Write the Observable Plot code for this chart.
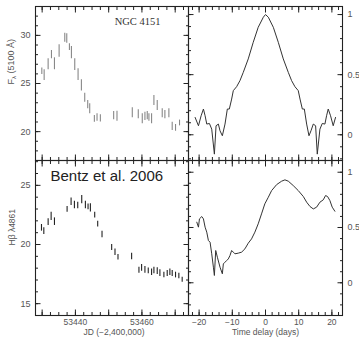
<!DOCTYPE html>
<html><head><meta charset="utf-8">
<script src="https://cdn.jsdelivr.net/npm/d3@7"></script>
<script src="https://cdn.jsdelivr.net/npm/@observablehq/plot@0.6"></script>
<style>
html,body{margin:0;padding:0;background:#fff;}
#wrap{position:relative;width:359px;height:337px;overflow:hidden;}
#wrap svg{position:absolute;left:0;top:0;}
</style></head><body><div id="wrap"></div>
<script>
// Continuum light curve (F_lambda 5100 A)
const contDay  = [53429.9,53430.6,53431.8,53432.8,53433.7,53435.1,53436.8,53437.4,53438.2,53438.8,53439.8,53440.8,53441.8,53442.8,53443.7,53444.3,53445.7,53446.5,53447.5,53451.5,53452.5,53457.1,53458.9,53460.1,53460.9,53461.6,53462.1,53462.9,53463.6,53464.6,53466.1,53466.9,53468.1,53469.1,53470.1,53471.3];
const contFlux = [26.27,25.87,27.0,28.0,27.05,28.38,29.76,29.68,28.78,28.2,26.96,25.92,24.8,23.52,22.8,22.37,21.33,21.47,21.37,21.66,21.6,21.95,21.8,21.33,21.59,21.66,21.47,21.33,23.23,22.71,21.9,21.76,21.9,20.55,20.39,20.9];
const contErr  = [0.33,0.55,0.57,0.43,0.62,0.64,0.47,0.49,0.35,0.64,0.61,0.61,0.59,0.47,0.43,0.52,0.35,0.38,0.38,0.43,0.52,0.52,0.47,0.52,0.43,0.43,0.38,0.52,0.52,0.52,0.47,0.43,0.47,0.43,0.35,0.3];
// H-beta light curve
const hbDay  = [53429.8,53430.5,53431.8,53432.7,53433.7,53437.5,53438.7,53439.7,53440.7,53441.9,53443.0,53443.8,53444.5,53445.8,53446.7,53448.0,53450.9,53451.9,53452.8,53456.9,53459.1,53459.9,53460.9,53461.9,53462.9,53463.6,53464.6,53465.4,53466.6,53467.6,53468.4,53469.1,53470.1,53471.1,53472.1];
const hbFlux = [21.41,21.13,21.89,22.38,21.93,22.97,23.62,23.34,23.3,23.79,23.34,23.18,23.09,22.49,21.72,20.85,19.75,19.35,18.93,18.99,17.83,18.03,17.86,17.77,17.66,17.8,17.75,17.58,17.42,17.55,17.65,17.55,17.42,17.34,17.03];
const hbErr  = [0.28,0.28,0.28,0.35,0.32,0.24,0.32,0.32,0.28,0.35,0.32,0.25,0.35,0.24,0.25,0.28,0.25,0.28,0.23,0.28,0.25,0.28,0.28,0.25,0.28,0.28,0.28,0.28,0.24,0.25,0.27,0.25,0.24,0.24,0.21];
// Continuum auto-correlation function
const acfLag = [-21.2,-20.2,-19.4,-18.7,-18.2,-17.7,-16.9,-16.2,-15.4,-14.9,-14.2,-13.7,-13.0,-12.2,-11.5,-10.9,-10.2,-9.7,-8.7,-7.7,-6.7,-5.2,-3.7,-2.2,-0.65,0,0.85,2.36,3.86,5.36,6.87,7.87,8.87,9.87,10.4,11.1,11.7,12.4,13.1,13.7,14.4,15.1,15.6,16.4,17.1,17.9,18.4,18.9,19.6,20.4,21.1];
const acfR   = [0.144,0.075,0.158,0.214,0.158,0.089,0.094,0.047,-0.161,0.075,0.089,0.033,-0.008,0.089,0.214,0.214,0.297,0.367,0.4,0.45,0.519,0.631,0.769,0.894,0.978,1.0,0.978,0.894,0.769,0.631,0.519,0.45,0.4,0.367,0.297,0.214,0.214,0.089,-0.008,0.033,0.089,0.075,-0.161,0.047,0.094,0.089,0.158,0.214,0.158,0.075,0.144];
// Cross-correlation function (continuum vs H-beta)
const ccfLag = [-20.7,-20.2,-19.9,-19.2,-18.7,-18.2,-17.7,-17.2,-16.7,-16.2,-15.7,-15.4,-15.0,-14.5,-13.7,-13.0,-12.7,-12.2,-11.7,-11.2,-10.7,-10.2,-9.7,-9.2,-8.2,-7.2,-6.2,-5.2,-4.2,-3.2,-2.2,-1.2,-0.2,0.85,1.85,3.36,4.86,5.86,6.87,8.37,9.87,11.4,12.4,13.4,14.4,15.4,16.4,17.4,18.1,18.7,19.4,20.1,20.9];
const ccfR   = [0.548,0.503,0.578,0.599,0.578,0.503,0.458,0.382,0.367,0.262,0.141,0.066,0.292,0.231,0.141,0.081,0.171,0.186,0.201,0.216,0.247,0.292,0.277,0.262,0.268,0.277,0.307,0.358,0.397,0.458,0.533,0.623,0.714,0.774,0.834,0.888,0.919,0.931,0.919,0.879,0.834,0.78,0.729,0.69,0.668,0.684,0.729,0.75,0.789,0.78,0.744,0.684,0.647];

const jdLabels = [53440, 53460];
const jdMajor = [53430, 53440, 53450, 53460, 53470];
const jdMinor = [53430,53432.5,53435,53437.5,53440,53442.5,53445,53447.5,53450,53452.5,53455,53457.5,53460,53462.5,53465,53467.5,53470,53472.5];
const contLabels = [20, 25, 30];
const contMinor = [18,19,20,21,22,23,24,25,26,27,28,29,30,31,32];
const hbLabels = [15, 20, 25];
const hbMinor = [15,16,17,18,19,20,21,22,23,24,25,26,27];
const lagLabels = [-20, -10, 0, 10, 20];
const lagMinor = [-22,-20,-18,-16,-14,-12,-10,-8,-6,-4,-2,0,2,4,6,8,10,12,14,16,18,20,22];
const rLabels = [0, 0.5, 1];
const rMinor = [-0.2,-0.1,0,0.1,0.2,0.3,0.4,0.5,0.6,0.7,0.8,0.9,1.0];

const W = 359, H = 337;
const FONT = "'Liberation Sans', Arial, sans-serif";
const INK = "#222", TXT = "#555";
const blank = () => "";

function frameTicks(xMajor, xMinor, yMajor, yMinor) {
  const M = -5.5, m = -3;
  const o = {label: null, tickFormat: blank, stroke: INK};
  return [
    Plot.axisX({...o, anchor: "bottom", ticks: xMajor, tickSize: M}),
    Plot.axisX({...o, anchor: "bottom", ticks: xMinor, tickSize: m}),
    Plot.axisX({...o, anchor: "top", ticks: xMajor, tickSize: M}),
    Plot.axisX({...o, anchor: "top", ticks: xMinor, tickSize: m}),
    Plot.axisY({...o, anchor: "left", ticks: yMajor, tickSize: M}),
    Plot.axisY({...o, anchor: "left", ticks: yMinor, tickSize: m}),
    Plot.axisY({...o, anchor: "right", ticks: yMajor, tickSize: M}),
    Plot.axisY({...o, anchor: "right", ticks: yMinor, tickSize: m}),
    Plot.frame({stroke: INK, strokeWidth: 1.1})
  ];
}

function panel([l, t, r, b], xDomain, yDomain, marks) {
  return Plot.plot({
    width: W, height: H,
    marginLeft: l, marginRight: W - r, marginTop: t, marginBottom: H - b,
    x: {domain: xDomain}, y: {domain: yDomain},
    style: {background: "transparent", fontFamily: FONT, fontSize: "9px", color: INK, overflow: "visible"},
    marks
  });
}

const jdDomain = [53428, 53474];
const lagDomain = [-23.2, 23.2];
const cIdx = d3.range(contDay.length);
const hIdx = d3.range(hbDay.length);
const aIdx = d3.range(acfLag.length);
const xIdx = d3.range(ccfLag.length);
const fmt = d3.format("d");
const rfmt = d => String(d);

// Top-left: continuum
const tl = panel([35, 6, 188, 160], jdDomain, [17, 33], [
  Plot.ruleX(cIdx, {x: i => contDay[i], y1: i => contFlux[i] - contErr[i], y2: i => contFlux[i] + contErr[i], stroke: "#888", strokeWidth: 1.1}),
  ...frameTicks(jdMajor, jdMinor, contLabels, contMinor),
  Plot.axisY({anchor: "left", ticks: contLabels, tickSize: 0, tickPadding: 5, label: null, fill: TXT}),
  Plot.text(["NGC 4151"], {frameAnchor: "top-right", dx: -28, dy: 18, fontFamily: "'Liberation Serif', 'Times New Roman', serif", fontSize: 10.5, fill: "#333", textAnchor: "end", lineAnchor: "bottom"}),
  Plot.text(["Fλ (5100 Å)"], {frameAnchor: "left", dx: -24, dy: 1, rotate: -90, fill: TXT, fontSize: 9})
]);

// Bottom-left: H-beta
const bl = panel([35, 160, 188, 315], jdDomain, [14, 27.1], [
  Plot.ruleX(hIdx, {x: i => hbDay[i], y1: i => hbFlux[i] - hbErr[i], y2: i => hbFlux[i] + hbErr[i], stroke: "#222", strokeWidth: 1.1}),
  ...frameTicks(jdMajor, jdMinor, hbLabels, hbMinor),
  Plot.axisY({anchor: "left", ticks: hbLabels, tickSize: 0, tickPadding: 5, label: null, fill: TXT}),
  Plot.axisX({anchor: "bottom", ticks: jdLabels, tickSize: 0, tickPadding: 3, tickFormat: fmt, label: null, fill: TXT, fontSize: 8.5}),
  Plot.text(["JD (−2,400,000)"], {frameAnchor: "bottom", dx: 2, dy: 19.5, fill: TXT, fontSize: 8.5, lineAnchor: "bottom"}),
  Plot.text(["Hβ λ4861"], {frameAnchor: "left", dx: -23, dy: 7.5, rotate: -90, fill: TXT, fontSize: 8.5}),
  Plot.text(["Bentz et al. 2006"], {frameAnchor: "top-left", dx: 15, dy: 20, fill: "#222", fontSize: 15, textAnchor: "start", lineAnchor: "bottom", fontFamily: FONT})
]);

// Top-right: ACF
const tr = panel([188, 6, 342, 160], lagDomain, [-0.214, 1.067], [
  Plot.line(aIdx, {x: i => acfLag[i], y: i => acfR[i], stroke: "#333", strokeWidth: 1}),
  ...frameTicks(lagLabels, lagMinor, rLabels, rMinor),
  Plot.axisY({anchor: "right", ticks: rLabels, tickSize: 0, tickPadding: 5, tickFormat: rfmt, label: null, fill: TXT})
]);

// Bottom-right: CCF
const br = panel([188, 160, 342, 315], lagDomain, [-0.296, 1.106], [
  Plot.line(xIdx, {x: i => ccfLag[i], y: i => ccfR[i], stroke: "#333", strokeWidth: 1}),
  ...frameTicks(lagLabels, lagMinor, rLabels, rMinor),
  Plot.axisY({anchor: "right", ticks: rLabels, tickSize: 0, tickPadding: 5, tickFormat: rfmt, label: null, fill: TXT}),
  Plot.axisX({anchor: "bottom", ticks: lagLabels, tickSize: 0, tickPadding: 3, tickFormat: fmt, label: null, fill: TXT, fontSize: 8.5}),
  Plot.text(["Time delay (days)"], {frameAnchor: "bottom", dy: 19.5, fill: TXT, fontSize: 8.5, lineAnchor: "bottom"})
]);

const wrap = document.getElementById("wrap");
[tl, bl, tr, br].forEach(s => wrap.appendChild(s));

// subscript lambda in F_lambda
const ft = Array.from(tl.querySelectorAll("text")).find(t => t.textContent === "Fλ (5100 Å)");
if (ft) {
  ft.textContent = "";
  const ns = "http://www.w3.org/2000/svg";
  const a = document.createElementNS(ns, "tspan"); a.textContent = "F";
  const s = document.createElementNS(ns, "tspan"); s.textContent = "λ"; s.setAttribute("font-size", "6"); s.setAttribute("dy", "2");
  const c = document.createElementNS(ns, "tspan"); c.textContent = " (5100 Å)"; c.setAttribute("dy", "-2");
  ft.append(a, s, c);
}
</script></body></html>
